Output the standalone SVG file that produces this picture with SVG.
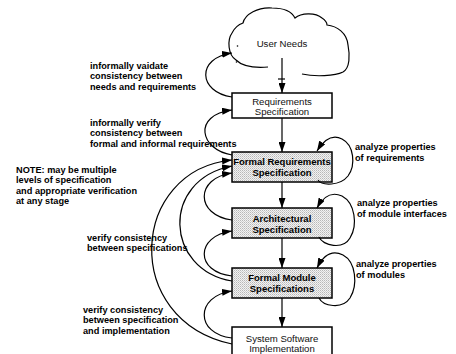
<svg xmlns="http://www.w3.org/2000/svg" width="456" height="354" viewBox="0 0 456 354">
<style>
.lbl{font-family:"Liberation Sans",Arial,sans-serif;font-weight:bold;font-size:9.2px;fill:#000}
.bt{font-family:"Liberation Sans",Arial,sans-serif;font-size:9.6px;fill:#111;text-anchor:middle}
.bb{font-family:"Liberation Sans",Arial,sans-serif;font-weight:bold;font-size:9.5px;fill:#000;text-anchor:middle}
.box{fill:#fff;stroke:#000;stroke-width:1.5}
.gbox{fill:url(#dots);stroke:#000;stroke-width:1.5}
.c{fill:none;stroke:#000;stroke-width:1.2}
.a{marker-end:url(#ah)}
</style>
<defs>
<pattern id="dots" width="2" height="2" patternUnits="userSpaceOnUse">
<rect width="2" height="2" fill="#f2f2f2"/>
<rect width="1" height="1" fill="#b8b8b8"/>
<rect x="1" y="1" width="1" height="1" fill="#d0d0d0"/>
</pattern>
<marker id="ah" markerWidth="10" markerHeight="7" refX="10" refY="3.5" orient="auto" markerUnits="userSpaceOnUse">
<path d="M0,0 L10,3.5 L0,7 z" fill="#000"/>
</marker>
</defs>
<rect width="456" height="354" fill="#fff"/>

<g id="user-needs">
<path class="c" d="M 268,67 C 255,68 242,66 236,60 C 228,55 227,40 232,33 C 235,27 240,24 243,23 C 245,14 258,7 272,8 C 284,8 292,12 295,18 C 301,13 315,12 322,18 C 325,20 327,23 327,25 C 337,26 347,33 348,45 C 350,55 350,68 343,72 C 335,76 315,77 302,74"/>
<line class="c" x1="278" y1="79" x2="285" y2="79"/>
<circle cx="237.5" cy="46" r="0.8" fill="#000"/>
<circle cx="236.5" cy="62" r="0.8" fill="#000"/>
<text class="bt" x="282" y="46.5">User Needs</text>
</g>

<g id="requirements-spec">
<rect class="box" x="232" y="93" width="100" height="25"/>
<text class="bt" x="282" y="104.5">Requirements</text>
<text class="bt" x="282" y="115">Specification</text>
</g>

<g id="formal-requirements">
<rect class="gbox" x="232" y="152" width="100" height="30"/>
<text class="bb" x="282" y="164.5">Formal Requirements</text>
<text class="bb" x="282" y="176">Specification</text>
</g>

<g id="architectural">
<rect class="gbox" x="232" y="208" width="100" height="30"/>
<text class="bb" x="282" y="221.5">Architectural</text>
<text class="bb" x="282" y="232.5">Specification</text>
</g>

<g id="formal-module">
<rect class="gbox" x="232" y="268" width="100" height="30"/>
<text class="bb" x="282" y="280.5">Formal Module</text>
<text class="bb" x="282" y="291.5">Specifications</text>
</g>

<g id="system-software">
<rect class="box" x="232" y="327" width="100" height="35"/>
<text class="bt" x="282" y="341.5">System Software</text>
<text class="bt" x="282" y="351.5">Implementation</text>
</g>

<g id="connectors">
<line class="c a" x1="282" y1="58" x2="282" y2="93"/>
<line class="c a" x1="282" y1="118" x2="282" y2="152"/>
<line class="c a" x1="282" y1="182" x2="282" y2="208"/>
<line class="c a" x1="282" y1="238" x2="282" y2="268"/>
<line class="c a" x1="282" y1="298" x2="282" y2="327"/>

<path class="c a" d="M 232,97 C 198,92 196,58 232,53"/>
<path class="c a" d="M 232,155 C 200,150 192,115 232,110"/>
<path class="c a" d="M 232,344 C 120,320 130,170 232,160"/>
<path class="c a" d="M 232,281 C 165,270 160,180 232,166"/>
<path class="c a" d="M 232,220 C 195,215 195,178 232,173"/>
<path class="c a" d="M 232,276 C 195,272 195,236 232,231"/>
<path class="c a" d="M 232,338 C 195,334 195,296 232,291"/>

<path class="c a" d="M 318,180 C 322,186 340,186 348,176 C 356,165 354,145 342,139 C 334,135 325,138 317,151"/>
<path class="c a" d="M 319,237 C 323,246 343,250 350,238 C 358,225 355,203 342,196 C 333,192 324,195 317,208"/>
<path class="c a" d="M 319,298 C 323,306 342,310 350,298 C 358,285 356,262 343,255 C 333,250 324,254 317,268"/>
</g>

<g id="labels">
<text class="lbl" x="90" y="68.5">informally vaidate</text>
<text class="lbl" x="90" y="79">consistency between</text>
<text class="lbl" x="90" y="89.5">needs and requirements</text>
<text class="lbl" x="90" y="125.5">informally verify</text>
<text class="lbl" x="90" y="136">consistency between</text>
<text class="lbl" x="90" y="146.5">formal and informal requirements</text>
<text class="lbl" x="16" y="172.5">NOTE: may be multiple</text>
<text class="lbl" x="16" y="183">levels of specification</text>
<text class="lbl" x="16" y="193.5">and appropriate verification</text>
<text class="lbl" x="16" y="204">at any stage</text>
<text class="lbl" x="87" y="240.5">verify consistency</text>
<text class="lbl" x="87" y="251">between specifications</text>
<text class="lbl" x="83" y="312.5">verify consistency</text>
<text class="lbl" x="83" y="323">between specification</text>
<text class="lbl" x="83" y="333.5">and implementation</text>
<text class="lbl" x="355" y="150">analyze properties</text>
<text class="lbl" x="355" y="160.5">of requirements</text>
<text class="lbl" x="357" y="206">analyze properties</text>
<text class="lbl" x="357" y="216.5">of module interfaces</text>
<text class="lbl" x="356" y="267">analyze properties</text>
<text class="lbl" x="356" y="277.5">of modules</text>
</g>
</svg>
